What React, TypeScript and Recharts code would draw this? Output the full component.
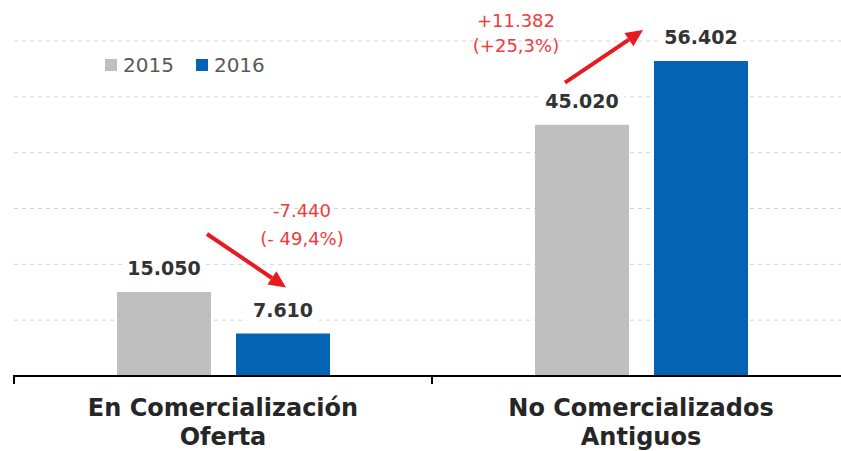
import {
  BarChart,
  Bar,
  XAxis,
  YAxis,
  CartesianGrid,
  Legend,
  LabelList,
} from 'recharts';

const categories = ['En Comercialización\nOferta', 'No Comercializados\nAntiguos'];
const values2015 = [15050, 45020];
const values2016 = [7610, 56402];
const changeAbs = ['-7.440', '+11.382'];
const changePct = ['(- 49,4%)', '(+25,3%)'];
const yTicks = [0, 10000, 20000, 30000, 40000, 50000, 60000];

const data = categories.map((name, i) => ({
  name,
  y2015: values2015[i],
  y2016: values2016[i],
}));

const CHART_W = 860;
const CHART_H = 451;
const MARGIN = { top: 41, right: 10, left: 14, bottom: 0 };
const BAND = (CHART_W - MARGIN.left - MARGIN.right) / categories.length;
const BAR_SIZE = 94;
const BAR_GAP = 25;

const GRAY = '#bfbfbf';
const BLUE = '#0563b5';
const RED = '#e8191f';
const FONT = '"DejaVu Sans", Verdana, sans-serif';

// arrow / text placement relative to the two bars of each category
const ANNOTATION_LAYOUT = [
  { from: [90, -58], tip: [50, -46], text: [66, -117, -89] },
  { from: [30, -42], tip: [-11, -31], text: [-138, -34, -9] },
];

const fmt = (v: number) => String(v).replace(/\B(?=(\d{3})+(?!\d))/g, '.');

const ValueLabel = (props: any) => {
  const { x, y, width, value } = props;
  const cx = Number(x) + Number(width) / 2;
  const text = fmt(Number(value));
  const w = text.length * 12 + 12;
  return (
    <g>
      <rect x={cx - w / 2} y={Number(y) - 36} width={w} height={24} fill="#fff" />
      <text
        x={cx}
        y={Number(y) - 17}
        textAnchor="middle"
        fontFamily={FONT}
        fontWeight="bold"
        fontSize={19}
        fill="#333"
      >
        {text}
      </text>
    </g>
  );
};

const ChangeAnnotation = (props: any) => {
  const { x, y, height, index } = props;
  const lay = ANNOTATION_LAYOUT[index];
  if (!lay) return null;
  const bx = Number(x);
  const by = Number(y);
  const base = by + Number(height);
  const grayX = bx - BAR_GAP - BAR_SIZE;
  const grayTop = base - (Number(height) * values2015[index]) / values2016[index];
  const x1 = grayX + lay.from[0];
  const y1 = grayTop + lay.from[1];
  const x2 = bx + lay.tip[0];
  const y2 = by + lay.tip[1];
  const ang = Math.atan2(y2 - y1, x2 - x1);
  const headLen = 17;
  const headW = 8;
  const hx = x2 - headLen * Math.cos(ang);
  const hy = y2 - headLen * Math.sin(ang);
  const px = -Math.sin(ang) * headW;
  const py = Math.cos(ang) * headW;
  const tx = bx + lay.text[0];
  return (
    <g>
      <line x1={x1} y1={y1} x2={hx} y2={hy} stroke={RED} strokeWidth={4} />
      <polygon
        points={`${x2},${y2} ${hx + px},${hy + py} ${hx - px},${hy - py}`}
        fill={RED}
      />
      <text x={tx} y={by + lay.text[1]} textAnchor="middle" fontFamily={FONT} fontSize={18} fill="#ee3b3b">
        {changeAbs[index]}
      </text>
      <text x={tx} y={by + lay.text[2]} textAnchor="middle" fontFamily={FONT} fontSize={18} fill="#ee3b3b">
        {changePct[index]}
      </text>
    </g>
  );
};

const CategoryTick = (props: any) => {
  const { x, y, payload } = props;
  const lines = String(payload.value).split('\n');
  const left = Number(x) - BAND / 2;
  return (
    <g>
      <line x1={left} x2={left} y1={Number(y) - 1} y2={Number(y) + 8} stroke="#000" strokeWidth={2} />
      <text textAnchor="middle" fontFamily={FONT} fontWeight="bold" fontSize={24} fill="#262626">
        {lines.map((line, i) => (
          <tspan key={i} x={x} y={Number(y) + 40 + i * 29}>
            {line}
          </tspan>
        ))}
      </text>
    </g>
  );
};

const LegendContent = () => (
  <div style={{ display: 'flex', alignItems: 'center', fontFamily: FONT, fontSize: 20, color: '#595959', lineHeight: '20px' }}>
    {[
      { label: '2015', color: GRAY },
      { label: '2016', color: BLUE },
    ].map((item, i) => (
      <div key={item.label} style={{ display: 'flex', alignItems: 'center', marginLeft: i ? 22 : 0 }}>
        <span style={{ width: 12, height: 12, background: item.color, marginRight: 6, display: 'inline-block' }} />
        <span>{item.label}</span>
      </div>
    ))}
  </div>
);

export default function App() {
  return (
    <div style={{ position: 'fixed', left: 0, top: 0, width: 841, height: 451, overflow: 'hidden', background: '#fff' }}>
      <BarChart width={CHART_W} height={CHART_H} data={data} margin={MARGIN} barGap={BAR_GAP}>
        <CartesianGrid vertical={false} stroke="#d4d4d4" strokeDasharray="4 4" />
        <XAxis
          dataKey="name"
          interval={0}
          height={75}
          tickSize={0}
          tickMargin={0}
          tickLine={false}
          axisLine={{ stroke: '#000', strokeWidth: 2 }}
          tick={<CategoryTick />}
        />
        <YAxis hide domain={[0, 60000]} ticks={yTicks} />
        <Legend
          verticalAlign="middle"
          align="center"
          layout="horizontal"
          wrapperStyle={{ left: 105, top: 55, width: 'auto' }}
          content={<LegendContent />}
        />
        <Bar dataKey="y2015" name="2015" fill={GRAY} barSize={BAR_SIZE} isAnimationActive={false}>
          <LabelList dataKey="y2015" content={<ValueLabel />} />
        </Bar>
        <Bar dataKey="y2016" name="2016" fill={BLUE} barSize={BAR_SIZE} isAnimationActive={false}>
          <LabelList dataKey="y2016" content={<ValueLabel />} />
          <LabelList dataKey="y2016" content={<ChangeAnnotation />} />
        </Bar>
      </BarChart>
    </div>
  );
}
